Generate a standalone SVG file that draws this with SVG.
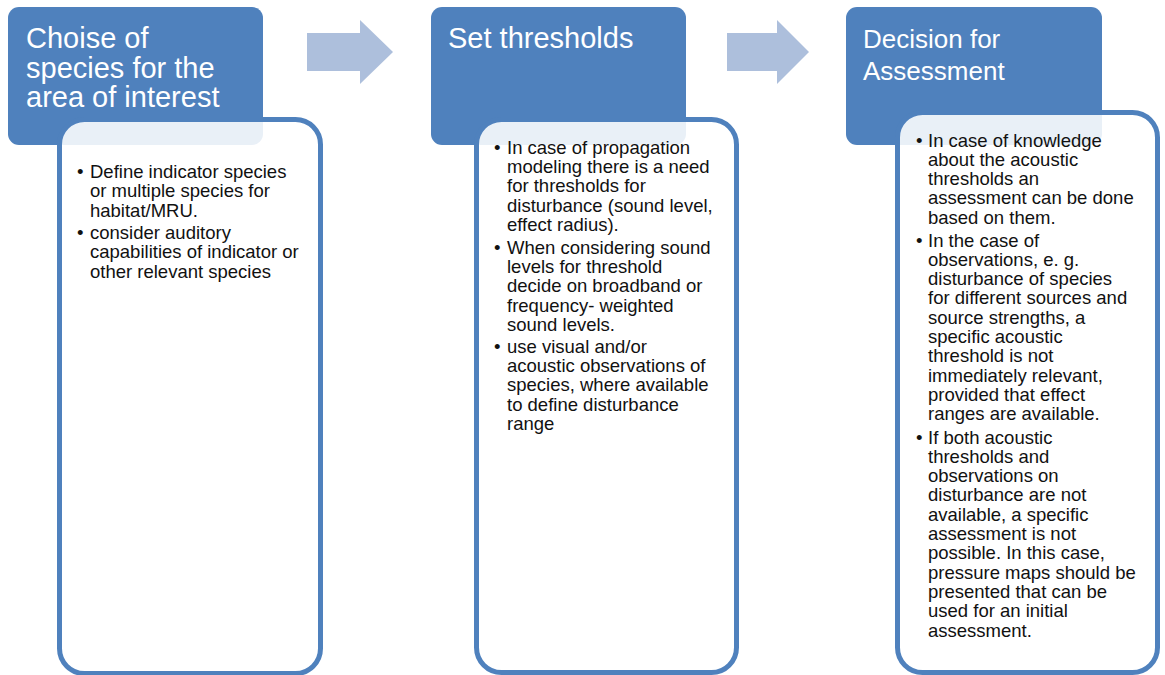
<svg xmlns="http://www.w3.org/2000/svg" width="1165" height="675" viewBox="0 0 1165 675">
  <style>
    .head { fill: #4f81bd; }
    .body { fill: #ffffff; fill-opacity: 0.88; stroke: #4f81bd; stroke-width: 5; }
    .arrow { fill: #adbfdc; }
    .title { font-family: "Liberation Sans", Arial, sans-serif; font-size: 29px; fill: #ffffff; }
    .title3 { font-family: "Liberation Sans", Arial, sans-serif; font-size: 26px; fill: #ffffff; }
    .txt { font-family: "Liberation Sans", Arial, sans-serif; font-size: 18.5px; fill: #111111; }
  </style>
  <rect width="1165" height="675" fill="#ffffff"/>

  <!-- process arrows between the steps -->
  <g id="connectors">
    <polygon class="arrow" points="307,33 360,33 360,20 393,52 360,84 360,71 307,71"/>
    <polygon class="arrow" points="727,33 777,33 777,20 809,52 777,84 777,71 727,71"/>
  </g>

  <!-- step 1 -->
  <g id="step-species">
    <rect class="head" x="8" y="7" width="255" height="138" rx="11"/>
    <text class="title" x="26">
      <tspan x="26" y="48">Choise of</tspan>
      <tspan x="26" y="78">species for the</tspan>
      <tspan x="26" y="107">area of interest</tspan>
    </text>
    <rect class="body" x="59.5" y="119.5" width="261" height="554" rx="25"/>
    <text class="txt">
      <tspan x="77" y="178">•</tspan>
      <tspan x="77" y="239">•</tspan>
    </text>
    <text class="txt">
      <tspan x="90" y="178">Define indicator species</tspan>
      <tspan x="90" y="197.4">or multiple species for</tspan>
      <tspan x="90" y="216.8">habitat/MRU.</tspan>
      <tspan x="90" y="239">consider auditory</tspan>
      <tspan x="90" y="258.4">capabilities of indicator or</tspan>
      <tspan x="90" y="277.8">other relevant species</tspan>
    </text>
  </g>

  <!-- step 2 -->
  <g id="step-thresholds">
    <rect class="head" x="431" y="7" width="255" height="138" rx="11"/>
    <text class="title" x="448" y="48">Set thresholds</text>
    <rect class="body" x="476.5" y="119.5" width="260" height="553" rx="25"/>
    <text class="txt">
      <tspan x="494" y="153.5">•</tspan>
      <tspan x="494" y="253.5">•</tspan>
      <tspan x="494" y="352.5">•</tspan>
    </text>
    <text class="txt">
      <tspan x="507" y="153.5">In case of propagation</tspan>
      <tspan x="507" y="172.9">modeling there is a need</tspan>
      <tspan x="507" y="192.3">for thresholds for</tspan>
      <tspan x="507" y="211.7">disturbance (sound level,</tspan>
      <tspan x="507" y="231.1">effect radius).</tspan>
      <tspan x="507" y="253.5">When considering sound</tspan>
      <tspan x="507" y="272.9">levels for threshold</tspan>
      <tspan x="507" y="292.3">decide on broadband or</tspan>
      <tspan x="507" y="311.7">frequency- weighted</tspan>
      <tspan x="507" y="331.1">sound levels.</tspan>
      <tspan x="507" y="352.5">use visual and/or</tspan>
      <tspan x="507" y="371.9">acoustic observations of</tspan>
      <tspan x="507" y="391.3">species, where available</tspan>
      <tspan x="507" y="410.7">to define disturbance</tspan>
      <tspan x="507" y="430.1">range</tspan>
    </text>
  </g>

  <!-- step 3 -->
  <g id="step-decision">
    <rect class="head" x="846" y="7" width="256" height="138" rx="11"/>
    <text class="title3">
      <tspan x="863" y="48">Decision for</tspan>
      <tspan x="863" y="80">Assessment</tspan>
    </text>
    <rect class="body" x="897.5" y="112.5" width="260" height="560" rx="25"/>
    <text class="txt">
      <tspan x="916" y="146.5">•</tspan>
      <tspan x="916" y="246.5">•</tspan>
      <tspan x="916" y="443.5">•</tspan>
    </text>
    <text class="txt">
      <tspan x="928" y="146.5">In case of knowledge</tspan>
      <tspan x="928" y="165.8">about the acoustic</tspan>
      <tspan x="928" y="185.1">thresholds an</tspan>
      <tspan x="928" y="204.4">assessment can be done</tspan>
      <tspan x="928" y="223.7">based on them.</tspan>
      <tspan x="928" y="246.5">In the case of</tspan>
      <tspan x="928" y="265.8">observations, e. g.</tspan>
      <tspan x="928" y="285.1">disturbance of species</tspan>
      <tspan x="928" y="304.4">for different sources and</tspan>
      <tspan x="928" y="323.7">source strengths, a</tspan>
      <tspan x="928" y="343">specific acoustic</tspan>
      <tspan x="928" y="362.3">threshold is not</tspan>
      <tspan x="928" y="381.6">immediately relevant,</tspan>
      <tspan x="928" y="400.9">provided that effect</tspan>
      <tspan x="928" y="420.2">ranges are available.</tspan>
      <tspan x="928" y="443.5">If both acoustic</tspan>
      <tspan x="928" y="462.8">thresholds and</tspan>
      <tspan x="928" y="482.1">observations on</tspan>
      <tspan x="928" y="501.4">disturbance are not</tspan>
      <tspan x="928" y="520.7">available, a specific</tspan>
      <tspan x="928" y="540">assessment is not</tspan>
      <tspan x="928" y="559.3">possible. In this case,</tspan>
      <tspan x="928" y="578.6">pressure maps should be</tspan>
      <tspan x="928" y="597.9">presented that can be</tspan>
      <tspan x="928" y="617.2">used for an initial</tspan>
      <tspan x="928" y="636.5">assessment.</tspan>
    </text>
  </g>
</svg>
